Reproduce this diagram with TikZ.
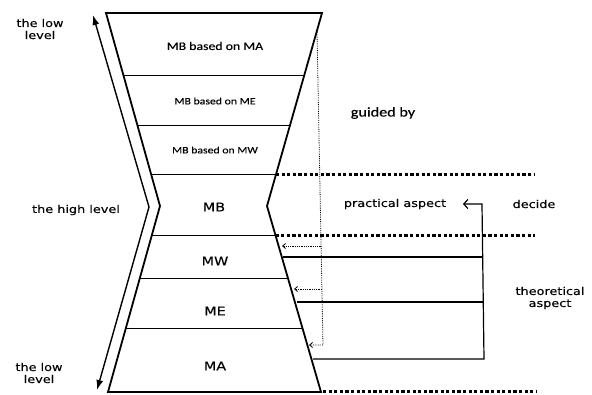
\documentclass[tikz,border=0pt]{standalone}
\usepackage{fontspec}
\usetikzlibrary{arrows.meta}
\newfontfamily\dv[FakeStretch=1.2,FakeBold=0.2]{DejaVu Sans}
\newfontfamily\cl[FakeStretch=1.2,FakeBold=0.2]{Carlito}
\tikzset{
  lbl/.style={font=\dv\fontsize{10.7}{12}\selectfont, inner sep=0pt, align=center},
  layerbig/.style={font=\cl\fontsize{11.5}{13}\selectfont, inner sep=0pt},
  layersmall/.style={font=\cl\fontsize{9.8}{12}\selectfont, inner sep=0pt},
  layerlbl/.style={font=\dv\fontsize{12}{14}\selectfont, inner sep=0pt},
  guide/.style={font=\cl\fontsize{13.5}{15}\selectfont, inner sep=0pt},
  glass/.style={line width=1.8pt, line join=miter},
  divider/.style={line width=1pt},
  bigdots/.style={line width=3pt, dash pattern=on 3.2pt off 2.4pt},
  finedots/.style={line width=0.8pt, densely dotted, black},
  finetip/.style={-{Straight Barb[length=3pt,width=5pt]}},
  feedback/.style={line width=1.2pt},
  levelarrow/.style={line width=1.4pt, {Latex[length=10pt,width=7pt]}-{Latex[length=10pt,width=7pt]}, line join=miter}
}
\begin{document}
\begin{tikzpicture}[x=1pt,y=-1pt]
\useasboundingbox (0,0) rectangle (592,394);
% hourglass corners
\coordinate (TL) at (106,13);
\coordinate (TR) at (322,13);
\coordinate (WL) at (160,206);
\coordinate (WR) at (267,206);
\coordinate (BL) at (108,392);
\coordinate (BR) at (321,392);
\draw[glass] (TL) -- (TR) -- (WR) -- (BR) -- (BL) -- (WL) -- cycle;
% dividers
\coordinate (d1l) at (123.3,75);  \coordinate (d1r) at (304.3,75);
\coordinate (d2l) at (137.3,125); \coordinate (d2r) at (290.1,125);
\coordinate (d3l) at (151.0,174.5); \coordinate (d3r) at (276.0,174.5);
\coordinate (d4l) at (151.6,235.5); \coordinate (d4r) at (275.6,235.5);
\coordinate (d5l) at (139.9,278); \coordinate (d5r) at (287.9,278);
\coordinate (d6l) at (125.9,328); \coordinate (d6r) at (302.4,328);
\foreach \i in {1,...,6} \draw[divider] (d\i l) -- (d\i r);
% thick dotted lines
\coordinate (e1) at (535,174.5);
\coordinate (e2) at (535,235.5);
\coordinate (e3a) at (323,391);
\coordinate (e3) at (537,391);
\draw[bigdots] (d3r) -- (e1);
\draw[bigdots] (d4r) -- (e2);
\draw[bigdots] (e3a) -- (e3);
% level arrow
\coordinate (la) at (93,15);
\coordinate (lv) at (149,207);
\coordinate (lb) at (97,390);
\draw[levelarrow] (la) -- (lv) -- (lb);
% layer labels
\node[layerbig] (mbma) at (215,46) {MB based on MA};
\node[layersmall] (mbme) at (215,101) {MB based on ME};
\node[layersmall] (mbmw) at (215,150) {MB based on MW};
\node[layerlbl] (mb) at (214,207) {MB};
\node[layerlbl] (mw) at (215,261) {MW};
\node[layerlbl] (me) at (215,311) {ME};
\node[layerlbl] (ma) at (215,366) {MA};
% level labels
\node[lbl] (lowtop) at (40,29) {the low\\level};
\node[lbl] (high) at (76,210) {the high level};
\node[lbl] (lowbot) at (39,373) {the low\\level};
% guided by dotted
\coordinate (g0) at (317,32);
\coordinate (g1) at (321.1,246);
\coordinate (g2) at (321.9,289);
\coordinate (g3) at (323,345);
\coordinate (t1) at (282,246);
\coordinate (t2) at (294,289);
\coordinate (t3) at (309,345);
\draw[finedots, finetip] (g0) -- (g3) -- (t3);
\draw[finedots, finetip] (g1) -- (t1);
\draw[finedots, finetip] (g2) -- (t2);
\node[guide] (guided) at (383,113) {guided by};
% practical / theoretical
\node[lbl] (prac) at (395,204) {practical aspect};
\node[lbl] (decide) at (534,204) {decide};
\node[lbl] (theo) at (550,298) {theoretical\\aspect};
\coordinate (h1) at (283,257);
\coordinate (h2) at (297,302);
\coordinate (h3) at (313,359);
\coordinate (v1) at (483,257);
\coordinate (v2) at (483,302);
\coordinate (v3) at (484,359);
\coordinate (vt) at (482,204);
\coordinate (pt) at (463,204);
\draw[feedback] (h1) -- (v1);
\draw[feedback] (h2) -- (v2);
\draw[feedback, -{Straight Barb[length=4pt,width=9pt]}, line join=miter] (h3) -- (v3) -- (vt) -- (pt);
\end{tikzpicture}
\end{document}
